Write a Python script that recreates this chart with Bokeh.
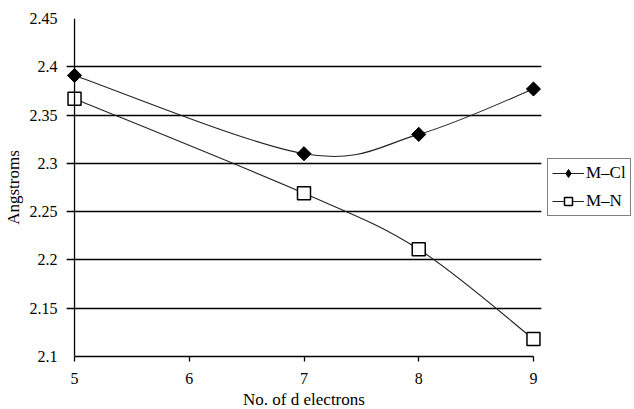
import numpy as np
from bokeh.plotting import figure
from bokeh.models import (ColumnDataSource, FixedTicker, Legend, LegendItem, Grid, Range1d, Span)
from bokeh.embed import file_html
from bokeh.resources import INLINE

# ---- data ----
d_electrons = [5, 7, 8, 9]
m_cl = [2.391, 2.31, 2.33, 2.377]
m_n = [2.367, 2.269, 2.211, 2.118]
x_ticks = [5, 6, 7, 8, 9]
y_ticks = [2.1, 2.15, 2.2, 2.25, 2.3, 2.35, 2.4, 2.45]
y_tick_labels = ["2.1", "2.15", "2.2", "2.25", "2.3", "2.35", "2.4", "2.45"]
series_names = ["M\u2013Cl", "M\u2013N"]

FONT = "Liberation Serif"
X_MIN, X_MAX = x_ticks[0], x_ticks[-1]
PAD = 0.07      # room so edge markers are not clipped
TICK = 0.035    # y tick-mark length in x data units


def smooth_segments(xs, ys):
    """Excel-like smoothed line: cubic Bezier segments (Catmull-Rom, 1/6 tangents)."""
    xs = np.asarray(xs, float)
    ys = np.asarray(ys, float)
    n = len(xs)
    x0, y0, x1, y1, cx0, cy0, cx1, cy1 = ([] for _ in range(8))
    for i in range(n - 1):
        pa = i - 1 if i > 0 else i
        pb = i + 2 if i + 2 < n else i + 1
        tx0 = (xs[i + 1] - xs[pa]) / 6.0
        ty0 = (ys[i + 1] - ys[pa]) / 6.0
        tx1 = (xs[pb] - xs[i]) / 6.0
        ty1 = (ys[pb] - ys[i]) / 6.0
        x0.append(xs[i]); y0.append(ys[i])
        x1.append(xs[i + 1]); y1.append(ys[i + 1])
        cx0.append(xs[i] + tx0); cy0.append(ys[i] + ty0)
        cx1.append(xs[i + 1] - tx1); cy1.append(ys[i + 1] - ty1)
    return dict(x0=x0, y0=y0, x1=x1, y1=y1, cx0=cx0, cy0=cy0, cx1=cx1, cy1=cy1)


p = figure(frame_width=475, frame_height=338, output_backend="svg", toolbar_location=None,
           x_range=Range1d(X_MIN - PAD, X_MAX + PAD), y_range=Range1d(y_ticks[0], y_ticks[-1]),
           min_border_left=66, min_border_right=0, min_border_top=18, min_border_bottom=40)
p.outline_line_color = None
p.background_fill_color = "white"
p.border_fill_color = "white"

# grid
p.xgrid.visible = False
p.ygrid.ticker = FixedTicker(ticks=[2.2, 2.25, 2.35, 2.4])
p.ygrid.grid_line_color = "#111111"
p.ygrid.grid_line_width = 1
p.ygrid.bounds = (X_MIN, X_MAX)
g2 = Grid(dimension=1, ticker=FixedTicker(ticks=[2.15, 2.3]),
          grid_line_color="#8a8a8a", grid_line_width=1, bounds=(X_MIN, X_MAX))
p.add_layout(g2)
# y tick marks just left of the y axis line
g_ticks = Grid(dimension=1, ticker=FixedTicker(ticks=y_ticks),
               grid_line_color="black", grid_line_width=1.3, bounds=(X_MIN - TICK, X_MIN))
p.add_layout(g_ticks)
# y axis line at x = 5
p.add_layout(Span(location=X_MIN, dimension="height", line_color="black", line_width=1.3))

# axes
p.xaxis.ticker = FixedTicker(ticks=x_ticks)
p.yaxis.ticker = FixedTicker(ticks=y_ticks)
p.yaxis.major_label_overrides = {t: l for t, l in zip(y_ticks, y_tick_labels)}
p.xaxis.bounds = (X_MIN, X_MAX)
for ax in (p.xaxis[0], p.yaxis[0]):
    ax.axis_line_color = "black"
    ax.axis_line_width = 1.3
    ax.major_tick_line_color = "black"
    ax.major_tick_line_width = 1.3
    ax.major_tick_out = 5
    ax.major_tick_in = 0
    ax.minor_tick_line_color = None
    ax.major_label_text_font = FONT
    ax.major_label_text_font_size = "16px"
    ax.major_label_text_color = "black"
    ax.axis_label_text_font = FONT
    ax.axis_label_text_font_style = "normal"
    ax.axis_label_text_color = "black"
p.yaxis.axis_line_color = None
p.yaxis.major_tick_line_color = None
p.yaxis.major_tick_out = 0
p.yaxis.major_label_standoff = 9
p.xaxis.major_label_standoff = 11
p.yaxis.axis_label = "Angstroms"
p.yaxis.axis_label_text_font_size = "17px"
p.yaxis.axis_label_standoff = 4
p.xaxis.axis_label = "No. of d electrons"
p.xaxis.axis_label_text_font_size = "17px"
p.xaxis.axis_label_standoff = 3

# smoothed lines
src_cl = ColumnDataSource(smooth_segments(d_electrons, m_cl))
src_n = ColumnDataSource(smooth_segments(d_electrons, m_n))
b_cl = p.bezier(x0="x0", y0="y0", x1="x1", y1="y1", cx0="cx0", cy0="cy0", cx1="cx1", cy1="cy1",
                source=src_cl, line_color="#222222", line_width=1.1)
b_n = p.bezier(x0="x0", y0="y0", x1="x1", y1="y1", cx0="cx0", cy0="cy0", cx1="cx1", cy1="cy1",
               source=src_n, line_color="#222222", line_width=1.1)

# markers: a diamond (used by the legend) covered by a rotated square (rounder diamond)
r_cl = p.scatter(d_electrons, m_cl, marker="diamond", size=13,
                 fill_color="black", line_color="black", line_width=1)
p.scatter(d_electrons, m_cl, marker="square", angle=np.pi / 4, size=10,
          fill_color="black", line_color="black", line_width=1)
r_n = p.scatter(d_electrons, m_n, marker="square", size=13,
                fill_color="white", line_color="black", line_width=1.5)

legend = Legend(items=[LegendItem(label=series_names[0], renderers=[b_cl, r_cl]),
                       LegendItem(label=series_names[1], renderers=[b_n, r_n])],
                location="center_left")
legend.border_line_color = "black"
legend.border_line_width = 1
legend.background_fill_color = "white"
legend.background_fill_alpha = 1
legend.label_text_font = FONT
legend.label_text_font_size = "17px"
legend.label_text_color = "black"
legend.glyph_width = 32
legend.glyph_height = 20
legend.label_height = 20
legend.spacing = 8
legend.padding = 4
legend.margin = 6
legend.label_standoff = 2
p.add_layout(legend, "right")

open("out.html", "w").write(file_html(p, INLINE))
